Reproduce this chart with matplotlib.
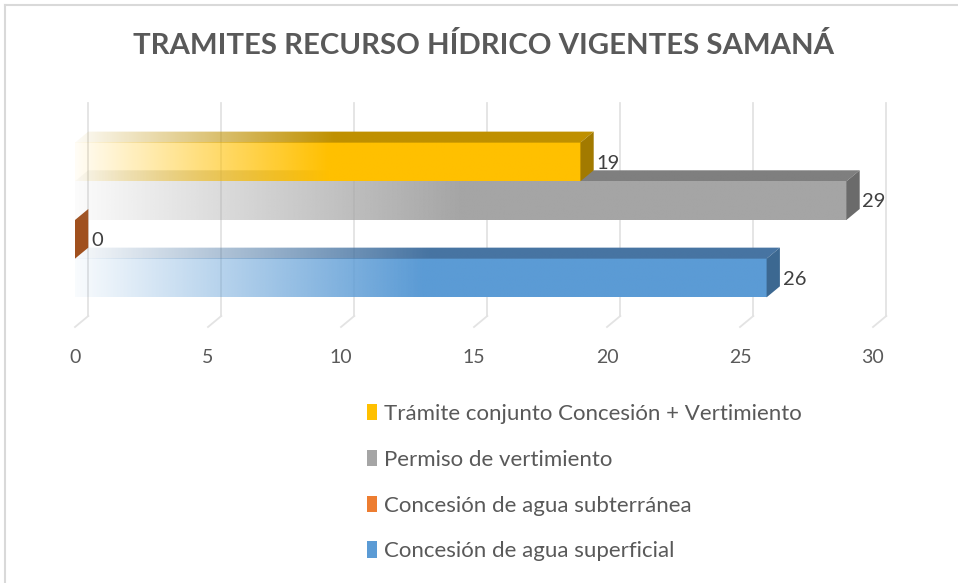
import matplotlib
matplotlib.use("Agg")
import matplotlib.pyplot as plt
import numpy as np
from matplotlib.patches import Polygon, Patch
from matplotlib.lines import Line2D
from matplotlib.colors import to_rgb

plt.rcParams['font.family'] = ['Lato', 'DejaVu Sans']

# --- data ---
title = 'TRAMITES RECURSO HÍDRICO VIGENTES SAMANÁ'
series = ['Trámite conjunto Concesión + Vertimiento',
          'Permiso de vertimiento',
          'Concesión de agua subterránea',
          'Concesión de agua superficial']
values = [19, 29, 0, 26]
ticks = [0, 5, 10, 15, 20, 25, 30]

front_colors = ['#FFC000', '#A5A5A5', '#ED7D31', '#5B9BD5']
top_colors = ['#BF9000', '#7F7F7F', '#B25E25', '#4774A2']
side_colors = ['#A27A00', '#6B6B6B', '#A0501E', '#3C6891']

# depth of the fake 3-D boxes, in data units
DX, DY = 0.5, 0.285
Y_LO, Y_HI = -1.267, 4.525


def ramp(color, a0=0.04, n=256):
    """horizontal colour strip fading from transparent to solid at half length"""
    t = np.linspace(0, 1, n)
    img = np.zeros((1, n, 4))
    img[..., :3] = to_rgb(color)
    img[..., 3] = a0 + (1 - a0) * np.clip(t / 0.5, 0, 1)
    return img


fig = plt.figure(figsize=(9.58, 5.83), dpi=100)
ax = fig.add_axes([75 / 958, 256 / 583, 798 / 958, 224 / 583])

# gridlines: back wall + floor diagonal
for t in ticks:
    ax.plot([t + DX, t + DX], [Y_LO + DY, Y_HI], color='#E3E3E3', lw=1.3,
            zorder=0, clip_on=False)
    ax.plot([t, t + DX], [Y_LO, Y_LO + DY], color='#E3E3E3', lw=1.3,
            zorder=0, clip_on=False)

ys = [3, 2, 1, 0]
for i in reversed(range(len(values))):
    v, y = values[i], ys[i]
    z = 2 + (3 - i) * 3
    y0, y1 = y - 0.5, y + 0.5
    if v > 0:
        ax.imshow(ramp(front_colors[i]), extent=[0, v, y0, y1], aspect='auto',
                  interpolation='bilinear', zorder=z)
        top = Polygon([(0, y1), (v, y1), (v + DX, y1 + DY), (DX, y1 + DY)],
                      closed=True, facecolor='none', edgecolor='none', zorder=z)
        ax.add_patch(top)
        im = ax.imshow(ramp(top_colors[i]), extent=[0, v + DX, y1, y1 + DY],
                       aspect='auto', interpolation='bilinear', zorder=z)
        im.set_clip_path(top)
    side = Polygon([(v, y0), (v + DX, y0 + DY), (v + DX, y1 + DY), (v, y1)],
                   closed=True, facecolor=side_colors[i], edgecolor='none',
                   zorder=z + 1)
    ax.add_patch(side)
    ax.text(v + DX + 0.1, y - 0.03, str(v), ha='left', va='center',
            fontsize=14.5, color='#404040', zorder=20)

ax.set_xlim(0, 30)
ax.set_ylim(Y_LO, Y_HI)
for s in ax.spines.values():
    s.set_visible(False)
ax.set_yticks([])
ax.set_xticks(ticks)
ax.tick_params(axis='x', length=0, pad=16, labelsize=14, labelcolor='#595959')

fig.text(484 / 958, 1 - 46 / 583, title, ha='center', va='center',
         fontsize=21.2, fontweight='bold', color='#595959')

handles = [Patch(facecolor=c, edgecolor='none') for c in front_colors]
fig.legend(handles, series, loc='upper left',
           bbox_to_anchor=(367 / 958, 1 - 404 / 583), frameon=False,
           fontsize=16, labelcolor='#595959', handlelength=0.45,
           handleheight=0.75, handletextpad=0.3, labelspacing=1.16,
           borderpad=0, borderaxespad=0)

# chart area border (only top and left edges are inside the crop)
fig.add_artist(Line2D([5 / 958, 5 / 958], [0, 1 - 5 / 583],
                      transform=fig.transFigure, color='#D9D9D9', lw=1.5))
fig.add_artist(Line2D([5 / 958, 1], [1 - 5 / 583, 1 - 5 / 583],
                      transform=fig.transFigure, color='#D9D9D9', lw=1.5))

fig.savefig('out.png', dpi=100)
